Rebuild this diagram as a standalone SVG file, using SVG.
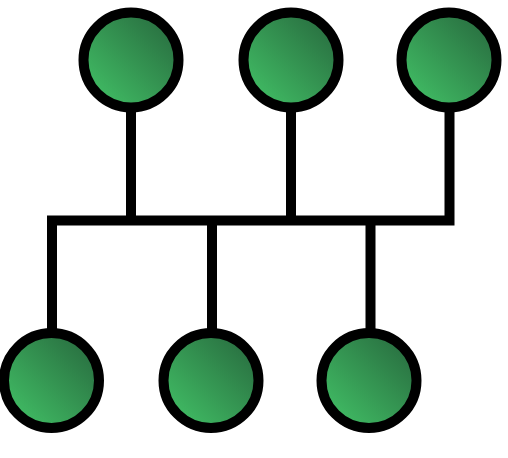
<svg xmlns="http://www.w3.org/2000/svg" width="508" height="458" viewBox="0 0 508 458">
  <defs>
    <linearGradient id="g" x1="0.15" y1="0.85" x2="0.85" y2="0.15">
      <stop offset="0" stop-color="#3fb862"/>
      <stop offset="1" stop-color="#2a7242"/>
    </linearGradient>
    <style>
      .node { fill: url(#g); stroke: #000; stroke-width: 10; }
      .wire { fill: none; stroke: #000; stroke-width: 10; stroke-linecap: butt; stroke-linejoin: miter; }
    </style>
  </defs>
  <rect width="508" height="458" fill="#fff"/>
  <g id="connectors">
    <path class="wire" d="M52 330 V220.5 H449.5 V108"/>
    <path class="wire" d="M131 108 V220.5"/>
    <path class="wire" d="M291 108 V220.5"/>
    <path class="wire" d="M212 220.5 V330"/>
    <path class="wire" d="M370.5 220.5 V330"/>
  </g>
  <g id="top1"><circle class="node" cx="131" cy="60" r="47.5"/></g>
  <g id="top2"><circle class="node" cx="291" cy="60" r="47.5"/></g>
  <g id="top3"><circle class="node" cx="449" cy="60" r="47.5"/></g>
  <g id="bottom1"><circle class="node" cx="51.5" cy="380.5" r="47.5"/></g>
  <g id="bottom2"><circle class="node" cx="211" cy="380.5" r="47.5"/></g>
  <g id="bottom3"><circle class="node" cx="369" cy="380.5" r="47.5"/></g>
</svg>
